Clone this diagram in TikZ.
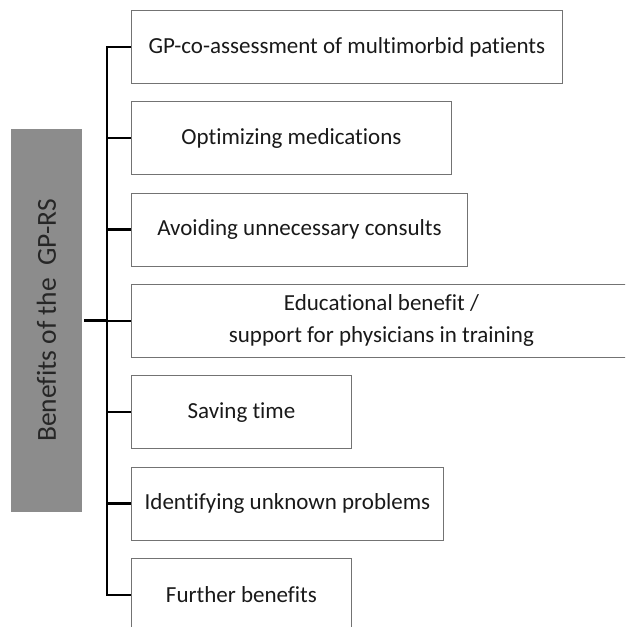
\documentclass[tikz,border=0pt]{standalone}
\usepackage{fontspec}
\setmainfont{Carlito}[Ligatures=NoCommon]
\usetikzlibrary{positioning}

\begin{document}
\begin{tikzpicture}[x=1pt,y=1pt,node distance=17.4pt,
    benefit box/.style={rectangle,draw=black!55,line width=0.9pt,
      font=\fontsize{23}{32}\selectfont,text=black!90,minimum height=73pt,
      inner sep=0pt,align=center},
    title box/.style={rectangle,fill=black!45,rotate=90,minimum width=383pt,
      minimum height=71pt,font=\fontsize{27.5}{32}\selectfont,text=black!85},
    branch/.style={draw=black,line width=2.4pt}]

  \useasboundingbox (0,0) rectangle (625,-627);
  \clip (0,0) rectangle (625,-627);

  \node[title box] (BEN) at (46.5,-320.5) {Benefits of the\ \ GP-RS};

  \node[benefit box,minimum width=431pt,anchor=north west] (GP) at (131,-10)
    {GP-co-assessment of multimorbid patients};
  \node[benefit box,minimum width=320pt,below=of GP.south west,anchor=north west] (OM)
    {Optimizing medications};
  \node[benefit box,minimum width=336pt,below=of OM.south west,anchor=north west] (AU)
    {Avoiding unnecessary consults};
  \node[benefit box,minimum width=500pt,below=of AU.south west,anchor=north west] (EB)
    {Educational benefit /\\support for physicians in training};
  \node[benefit box,minimum width=220pt,below=of EB.south west,anchor=north west] (ST)
    {Saving time};
  \node[benefit box,minimum width=312pt,below=of ST.south west,anchor=north west] (IU)
    {Identifying unknown problems};
  \node[benefit box,minimum width=220pt,below=of IU.south west,anchor=north west] (FB)
    {Further benefits};

  \coordinate (spine) at (107,-320);

  % trunk and branches
  \draw[branch] (GP.west) -| (spine) |- (FB.west);
  \foreach \b in {OM,AU,EB,ST,IU}
    \draw[branch] (\b.west -| spine) -- (\b.west);
  \draw[branch,shorten <=2pt] (BEN.south) -- (BEN.south -| spine);
\end{tikzpicture}
\end{document}
